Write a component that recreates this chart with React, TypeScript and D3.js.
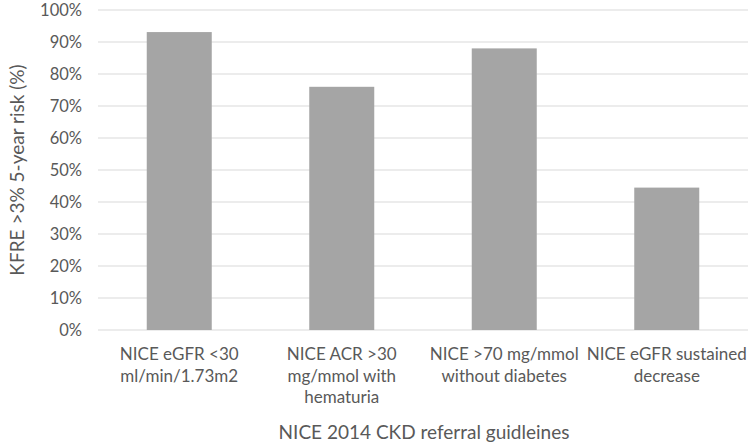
import * as d3 from 'd3';
import React from 'react';

// values
const categories = [
  ['NICE eGFR <30', 'ml/min/1.73m2'],
  ['NICE ACR >30', 'mg/mmol with', 'hematuria'],
  ['NICE >70 mg/mmol', 'without diabetes'],
  ['NICE eGFR sustained', 'decrease'],
];
const values = [0.931, 0.76, 0.88, 0.445];
const yTicks = [0, 0.1, 0.2, 0.3, 0.4, 0.5, 0.6, 0.7, 0.8, 0.9, 1.0];

const width = 750;
const height = 445;
const marginLeft = 98;
const marginRight = 2;
const marginTop = 10;
const marginBottom = 115;

const font = 'Lato, "Open Sans", sans-serif';
const textColor = '#595959';

const App = () => {
  // band scale for the 4 guideline categories
  const x = d3
    .scaleBand<number>()
    .domain(d3.range(categories.length))
    .range([marginLeft, width - marginRight])
    .paddingInner(0.6)
    .paddingOuter(0.3);
  const y = d3.scaleLinear([0, 1], [height - marginBottom, marginTop]);
  const fmt = d3.format('.0%');

  return (
    <svg
      width={width}
      height={height}
      style={{ position: 'absolute', left: 0, top: 0 }}
      fontFamily={font}
    >
      <rect width={width} height={height} fill="white" />
      {/* gridlines */}
      <g stroke="#d9d9d9" strokeWidth={1}>
        {yTicks.map((t) => (
          <line key={t} x1={marginLeft} x2={width - marginRight} y1={y(t)} y2={y(t)} />
        ))}
      </g>
      {/* y tick labels */}
      <g fill={textColor} fontSize={16.5} textAnchor="end">
        {yTicks.map((t) => (
          <text key={t} x={82} y={y(t)} dy="0.35em">
            {fmt(t)}
          </text>
        ))}
      </g>
      {/* bars */}
      <g fill="#a5a5a5">
        {values.map((v, i) => (
          <rect key={i} x={x(i)} y={y(v)} width={x.bandwidth()} height={y(0) - y(v)} />
        ))}
      </g>
      {/* category labels */}
      <g fill={textColor} fontSize={17} textAnchor="middle">
        {categories.map((lines, i) => (
          <text key={i} x={(x(i) ?? 0) + x.bandwidth() / 2} y={360}>
            {lines.map((l, j) => (
              <tspan key={j} x={(x(i) ?? 0) + x.bandwidth() / 2} dy={j === 0 ? 0 : 21.5}>
                {l}
              </tspan>
            ))}
          </text>
        ))}
      </g>
      {/* axis titles */}
      <text x={(marginLeft + width) / 2} y={439} fill={textColor} fontSize={19} textAnchor="middle">
        NICE 2014 CKD referral guidleines
      </text>
      <text
        transform={`translate(24,${(y(0) + y(1)) / 2}) rotate(-90)`}
        fill={textColor}
        fontSize={19}
        textAnchor="middle"
      >
        KFRE &gt;3% 5-year risk (%)
      </text>
    </svg>
  );
};

export default App;
